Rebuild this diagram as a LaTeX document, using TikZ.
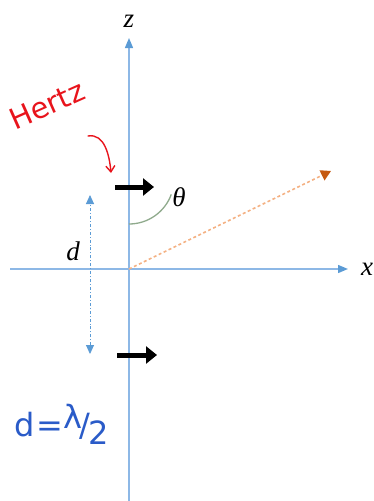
\documentclass[tikz,border=0pt]{standalone}
\usepackage{fontspec}
\setmainfont{Liberation Serif}
\newfontfamily\handfont{DejaVu Sans}
\usetikzlibrary{arrows.meta}
\definecolor{axisblue}{HTML}{8DB8E6}
\definecolor{tipblue}{HTML}{5B9BD5}
\definecolor{dorange}{HTML}{F4B183}
\definecolor{torange}{HTML}{C55A11}
\definecolor{arcgreen}{HTML}{8FAA8C}
\definecolor{hred}{HTML}{E8141C}
\definecolor{hblue}{HTML}{2A5BC8}
\tikzset{
  axis/.style={draw=axisblue, line width=1.4pt, -{Triangle[length=10pt,width=8pt,fill=tipblue,color=tipblue]}},
  lab/.style={font=\itshape\fontsize{27}{30}\selectfont, inner sep=0pt},
  dipole/.style={draw=black, line width=5pt, -{Triangle[length=11pt,width=17pt]}},
  dim/.style={draw=tipblue, line width=0.9pt, dash dot, {Triangle[length=9pt,width=8pt]}-{Triangle[length=9pt,width=8pt]}},
  ray/.style={draw=dorange, line width=1.6pt, dash pattern=on 3pt off 2.5pt, -{Triangle[length=10pt,width=11pt,fill=torange,color=torange]}},
  hand/.style={inner sep=0pt}
}
\begin{document}
\begin{tikzpicture}[x=1pt,y=-1pt]
\useasboundingbox (0,0) rectangle (373,501);
\coordinate (O) at (129,269);
\coordinate (zb) at (129,501);
\coordinate (zt) at (129,38);
\coordinate (xl) at (10,269);
\coordinate (xr) at (348,269);
\draw[axis] (zb) -- (zt);
\draw[axis] (xl) -- (xr);
\node[lab] (zlab) at (129,21) {z};
\node[lab] (xlab) at (367,269) {x};
\coordinate (P) at (331,171);
\draw[ray] (O) -- (P);
\draw[arcgreen, line width=1.3pt] (129,224) arc[start angle=90, end angle=20, radius=45];
\node[lab] (th) at (179,197) {θ};
\coordinate (a1s) at (115,187);
\coordinate (a1e) at (154,187);
\coordinate (a2s) at (117,355);
\coordinate (a2e) at (157,355);
\draw[dipole] (a1s) -- (a1e);
\draw[dipole] (a2s) -- (a2e);
\coordinate (dt) at (90,195);
\coordinate (db) at (90,354);
\draw[dim, tipblue] (db) -- (dt);
\node[lab] (dlab) at (73,251) {d};
\node[hand, text=hred, font=\handfont\fontsize{29}{32}\selectfont, rotate=24] (hertz) at (47,105) {Hertz};
\coordinate (hs) at (88,136);
\coordinate (he) at (111,173);
\draw[hred, line width=1.4pt, line cap=round, -{Straight Barb[length=6pt,width=9pt]}] (hs) to[out=10, in=95] (he);
\node[hand, text=hblue, font=\handfont\fontsize{32}{36}\selectfont] (eq) at (62,424) {d\kern1pt=\raisebox{8pt}{λ}\kern-2pt/\kern-2pt\raisebox{-8pt}{2}};
\end{tikzpicture}
\end{document}
